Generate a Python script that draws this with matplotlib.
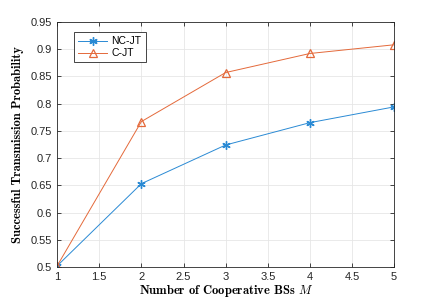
import matplotlib.pyplot as plt
import numpy as np

# cooperative BSs and success probabilities
M = [1, 2, 3, 4, 5]
nc_jt = [0.502, 0.653, 0.724, 0.765, 0.794]
c_jt = [0.502, 0.767, 0.857, 0.892, 0.908]

plt.rcParams['mathtext.fontset'] = 'cm'
plt.rcParams['font.family'] = ['Liberation Sans', 'DejaVu Sans']

fig = plt.figure(figsize=(4.36, 3.0), dpi=100)
ax = fig.add_axes([0.131, 0.11, 0.773, 0.817])

ax.plot(M, nc_jt, color='#2a8ad4', marker=(6, 2, 0), markersize=6, lw=0.7,
        markeredgewidth=1.0, label='NC-JT')
ax.plot(M, c_jt, color='#e4693a', marker='^', markersize=6, lw=0.7,
        markerfacecolor='none', markeredgewidth=0.9, label='C-JT')

ax.set_xlim(1, 5)
ax.set_ylim(0.5, 0.95)
ax.set_xticks(np.arange(1, 5.01, 0.5))
ax.set_xticklabels(['1', '1.5', '2', '2.5', '3', '3.5', '4', '4.5', '5'])
ax.set_yticks(np.arange(0.5, 0.951, 0.05))
ax.set_yticklabels(['0.5', '0.55', '0.6', '0.65', '0.7', '0.75', '0.8', '0.85', '0.9', '0.95'])
ax.tick_params(direction='in', top=True, right=True, labelsize=8, length=3,
               colors='#262626', width=0.6)
ax.grid(True, color='#e6e6e6', lw=0.6)
for s in ax.spines.values():
    s.set_color('#262626')
    s.set_linewidth(0.6)

ax.set_xlabel('Number of Cooperative BSs $M$', family='cmb10', fontsize=9, labelpad=1)
ax.set_ylabel('Successful Transmission Probability', family='cmb10', fontsize=9, labelpad=5)

leg = ax.legend(loc='upper left', bbox_to_anchor=(0.035, 0.98), fontsize=7.5,
                fancybox=False, edgecolor='#262626', framealpha=1,
                handlelength=2.8, borderpad=0.4, labelspacing=0.2, handletextpad=0.4)
leg.get_frame().set_linewidth(0.6)

plt.savefig('out.png', dpi=100)
